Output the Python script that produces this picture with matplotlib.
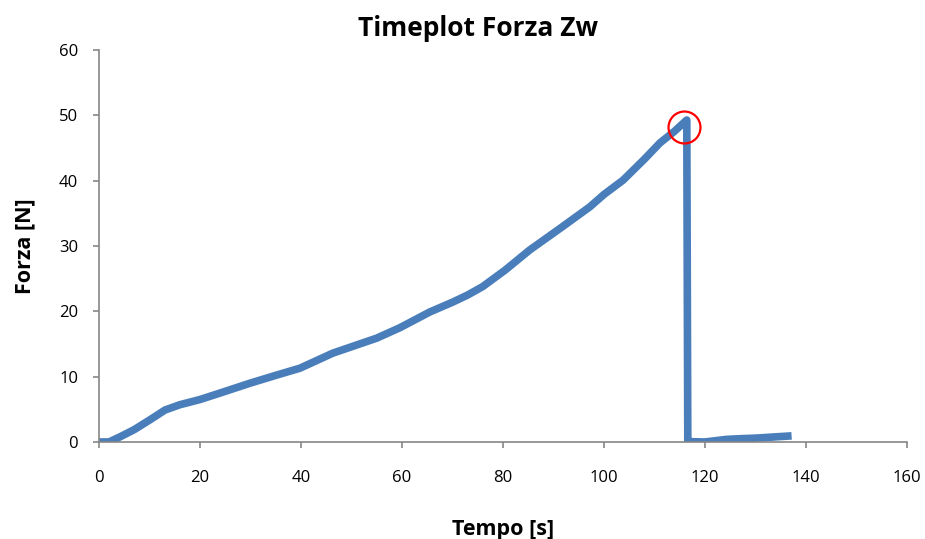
import matplotlib.pyplot as plt

# valori
tempo = [0, 2, 4.2, 7, 10.1, 13.1, 16, 20, 24, 29.9, 35, 39.8, 46.3, 49.7,
         55, 59.6, 65.5, 70, 73, 76, 80.4, 85.3, 91.3, 97.2, 100, 103.8,
         108, 111.1, 114, 116.4, 116.6, 117, 120, 124.3, 127, 130.3, 134.3, 136.4]
forza = [0, 0, 0.8, 1.9, 3.4, 4.9, 5.7, 6.5, 7.5, 9.0, 10.2, 11.3, 13.6, 14.5,
         15.9, 17.5, 19.9, 21.4, 22.5, 23.8, 26.3, 29.4, 32.7, 36.0, 37.9, 40.1,
         43.3, 45.8, 47.6, 49.3, 0, 0.05, 0.0, 0.4, 0.5, 0.6, 0.8, 0.9]

picco_t, picco_f = 115.9, 48.2

plt.rcParams['font.family'] = ['Open Sans', 'DejaVu Sans']

fig = plt.figure(figsize=(9.25, 5.39), dpi=100)
ax = fig.add_axes([0.107, 0.18, 0.8735, 0.727])

ax.plot(tempo, forza, color='#4A7EBB', lw=5.5, solid_joinstyle='round')
ax.plot([picco_t], [picco_f], 'o', ms=23, mfc='none', mec='#FF0000', mew=1.6)

ax.set_xlim(0, 160)
ax.set_ylim(0, 60)
ax.set_xticks(range(0, 161, 20))
ax.set_yticks(range(0, 61, 10))

for s in ['top', 'right']:
    ax.spines[s].set_visible(False)
for s in ['left', 'bottom']:
    ax.spines[s].set_color('#868686')
    ax.spines[s].set_linewidth(1.2)
ax.tick_params(colors='#868686', length=4, width=1.2, labelcolor='black', labelsize=12)
ax.tick_params(axis='x', pad=16)
ax.tick_params(axis='y', pad=11)

ax.set_title('Timeplot Forza Zw', fontsize=19, fontweight='bold', pad=10, x=0.469)
ax.set_xlabel('Tempo [s]', fontsize=15.5, fontweight='bold', labelpad=24)
ax.set_ylabel('Forza [N]', fontsize=15.5, fontweight='bold', labelpad=17)

fig.savefig('out.png', dpi=100)
